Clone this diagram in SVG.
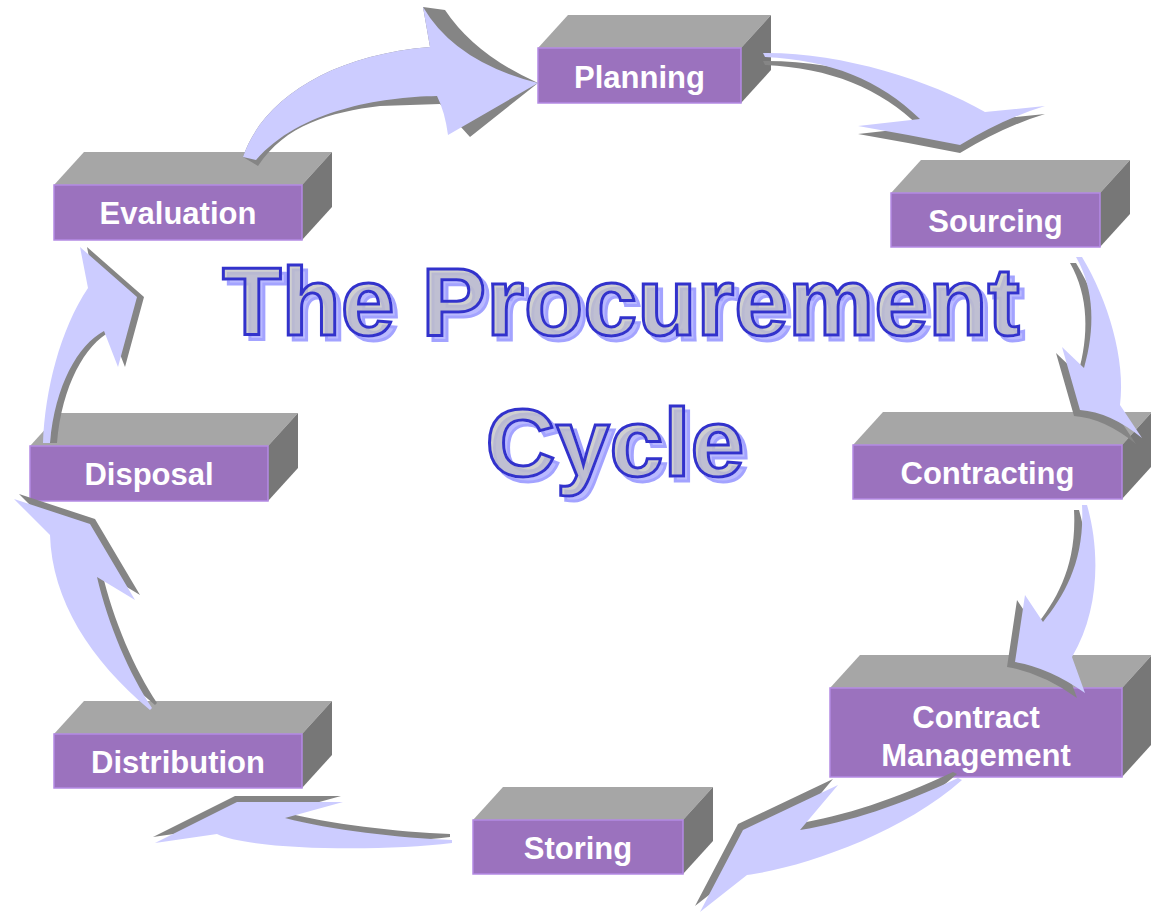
<svg xmlns="http://www.w3.org/2000/svg" xmlns:xlink="http://www.w3.org/1999/xlink" width="1151" height="915" viewBox="0 0 1151 915">
<style>
.top{fill:#a6a6a6}
.side{fill:#777777}
.front{fill:#9b72be;stroke:#b48be4;stroke-width:1.5}
.lbl{font-family:"Liberation Sans",Arial,sans-serif;font-weight:bold;font-size:31px;fill:#ffffff;text-anchor:middle}
.body{fill:#ccccff}
.edge{fill:#858585}
.ttl{font-family:"Liberation Sans",Arial,sans-serif;font-weight:bold;font-size:97px;text-anchor:middle;fill:#c0c0c0;fill-opacity:0.75;stroke:#3333cc;stroke-width:3;filter:url(#tshadow)}
</style>
<defs>
<filter id="tshadow" x="-5%" y="-20%" width="112%" height="145%">
<feOffset in="SourceAlpha" dx="5" dy="5" result="o"/>
<feFlood flood-color="#a3a3ff"/>
<feComposite in2="o" operator="in" result="s"/>
<feMerge><feMergeNode in="s"/><feMergeNode in="SourceGraphic"/></feMerge>
</filter>
<path id="a2" d="M763,53 C840,52 930,80 985,112 L1045,106 Q1005,118 960,145 Q910,135 858,126 L920,119 C880,80 830,60 765,57 Z"/>
<path id="a3" d="M1076,257 L1082,257 C1108,300 1126,360 1120,405 L1142,438 Q1110,412 1080,410 L1062,347 L1084,368 C1095,330 1095,290 1076,257 Z"/>
<path id="a4" d="M1082,505 L1087,505 C1100,550 1100,610 1072,657 L1085,693 Q1050,668 1015,662 L1025,595 L1043,622 C1065,595 1085,560 1082,505 Z"/>
<path id="a5" d="M958,778 C900,805 850,822 800,830 L838,785 L743,830 L700,912 L747,875 C800,868 900,835 962,780 Z"/>
<path id="a6" d="M452,840 C400,838 330,830 285,818 L343,802 L237,802 L155,843 L217,834 C250,850 380,852 452,843 Z"/>
<path id="a7" d="M152,708 C130,675 108,625 97,577 L135,600 L90,524 L14,499 L50,535 C52,600 90,660 150,710 Z"/>
<path id="a8" d="M43,443 C45,390 60,330 88,288 L80,247 L137,297 L118,367 L104,331 C78,345 55,385 50,443 Z"/>
</defs>
<rect width="1151" height="915" fill="#ffffff"/>

<g id="title">
<text class="ttl" x="621" y="335">The Procurement</text>
<text class="ttl" x="615" y="476">Cycle</text>
</g>

<g id="planning">
<polygon class="top" points="538,48 568,15 771,15 741,48"/>
<polygon class="side" points="741,48 771,15 771,70 741,103"/>
<rect class="front" x="538" y="48" width="203" height="55"/>
<text class="lbl" x="639.5" y="88">Planning</text>
</g>
<g id="sourcing">
<polygon class="top" points="891,193 921,160 1130,160 1100,193"/>
<polygon class="side" points="1100,193 1130,160 1130,214 1100,247"/>
<rect class="front" x="891" y="193" width="209" height="54"/>
<text class="lbl" x="995.5" y="232">Sourcing</text>
</g>
<g id="contracting">
<polygon class="top" points="853,445 883,412 1152,412 1122,445"/>
<polygon class="side" points="1122,445 1152,412 1152,466 1122,499"/>
<rect class="front" x="853" y="445" width="269" height="54"/>
<text class="lbl" x="987.5" y="484">Contracting</text>
</g>
<g id="contract-management">
<polygon class="top" points="830,688 860,655 1152,655 1122,688"/>
<polygon class="side" points="1122,688 1152,655 1152,744 1122,777"/>
<rect class="front" x="830" y="688" width="292" height="89"/>
<text class="lbl" x="976" y="728">Contract</text>
<text class="lbl" x="976" y="766">Management</text>
</g>
<g id="storing">
<polygon class="top" points="473,820 503,787 713,787 683,820"/>
<polygon class="side" points="683,820 713,787 713,841 683,874"/>
<rect class="front" x="473" y="820" width="210" height="54"/>
<text class="lbl" x="578" y="859">Storing</text>
</g>
<g id="distribution">
<polygon class="top" points="54,734 84,701 332,701 302,734"/>
<polygon class="side" points="302,734 332,701 332,755 302,788"/>
<rect class="front" x="54" y="734" width="248" height="54"/>
<text class="lbl" x="178" y="773">Distribution</text>
</g>
<g id="disposal">
<polygon class="top" points="30,446 60,413 298,413 268,446"/>
<polygon class="side" points="268,446 298,413 298,468 268,501"/>
<rect class="front" x="30" y="446" width="238" height="55"/>
<text class="lbl" x="149" y="485">Disposal</text>
</g>
<g id="evaluation">
<polygon class="top" points="54,185 84,152 332,152 302,185"/>
<polygon class="side" points="302,185 332,152 332,207 302,240"/>
<rect class="front" x="54" y="185" width="248" height="55"/>
<text class="lbl" x="178" y="224">Evaluation</text>
</g>

<g id="connectors">
<g id="evaluation-to-planning">
<path class="edge" d="M243,157 L258,166 C285,125 330,112 380,106 L440,104 L470,137 L538,83 Q475,55 445,10 L423,7 L430,47 C330,55 262,100 243,157 Z"/>
<path class="body" d="M243,157 C262,100 330,55 430,47 L423,7 Q455,62 538,83 L448,135 Q445,112 437,96 C380,97 300,110 256,160 Z"/>
</g>
<g id="planning-to-sourcing"><use xlink:href="#a2" class="edge" transform="translate(0,8)"/><use xlink:href="#a2" class="body"/></g>
<g id="sourcing-to-contracting"><use xlink:href="#a3" class="edge" transform="translate(-6,6)"/><use xlink:href="#a3" class="body"/></g>
<g id="contracting-to-contract-management"><use xlink:href="#a4" class="edge" transform="translate(-8,5)"/><use xlink:href="#a4" class="body"/></g>
<g id="contract-management-to-storing"><use xlink:href="#a5" class="edge" transform="translate(-5,-6)"/><use xlink:href="#a5" class="body"/></g>
<g id="storing-to-distribution"><use xlink:href="#a6" class="edge" transform="translate(-2,-6)"/><use xlink:href="#a6" class="body"/></g>
<g id="distribution-to-disposal"><use xlink:href="#a7" class="edge" transform="translate(5,-5)"/><use xlink:href="#a7" class="body"/></g>
<g id="disposal-to-evaluation"><use xlink:href="#a8" class="edge" transform="translate(7,0)"/><use xlink:href="#a8" class="body"/></g>
</g>
</svg>
